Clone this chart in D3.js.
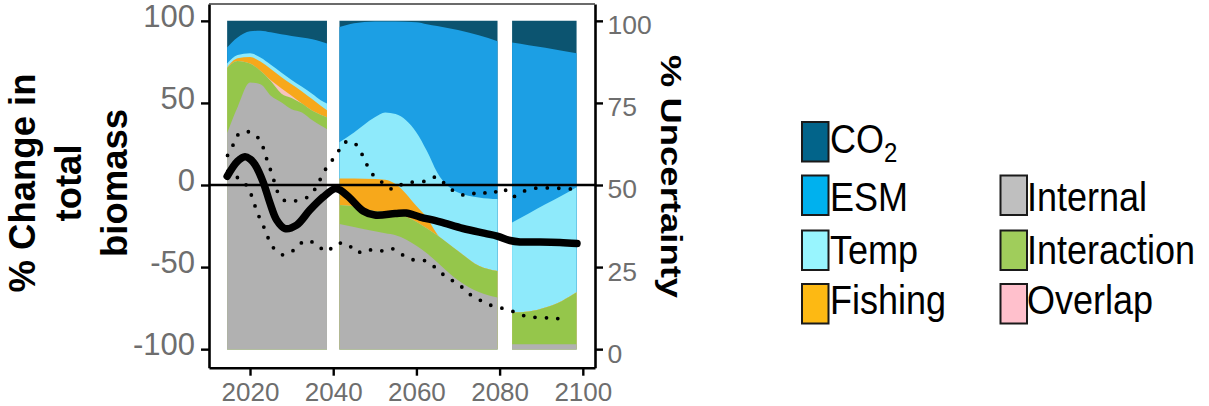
<!DOCTYPE html>
<html><head><meta charset="utf-8">
<script src="https://cdn.jsdelivr.net/npm/d3@7"></script>
<style>
body{margin:0;background:#fff;}
svg{display:block;font-family:"Liberation Sans",Arial,Helvetica,sans-serif;}
</style></head><body>
<svg id="c" width="1209" height="406"></svg>
<script>
// ---------- data ----------
const years  = [2014.5,2017,2020,2022.5,2025,2027.5,2030,2032.5,2035,2037,2038.5,
                2041.5,2045,2050,2052.5,2055,2060,2062.5,2065,2070,2075,2079.5,
                2083,2087,2091,2095,2098.5];
const period = [1,1,1,1,1,1,1,1,1,1,1, 2,2,2,2,2,2,2,2,2,2,2, 3,3,3,3,3];
const co2         = [8.1,5.1,3.2,3.0,3.5,4.1,4.6,5.1,5.6,6.3,6.9, 1.9,0.7,0.2,0.2,0.2,0.4,1.0,1.6,2.8,4.4,6.2, 6.6,7.4,8.2,9.1,9.9];
const esm         = [4.9,5.3,6.7,8.2,9.9,11.6,13.4,15.0,16.7,17.9,18.3, 35.1,33.3,29.2,27.7,28.2,33.6,38.6,44.6,49.5,49.4,48.1, 54.8,51.3,47.7,44.1,40.8];
const temp        = [1.2,1.0,1.1,1.2,1.3,1.4,1.3,1.4,1.6,1.7,2.0, 11.0,14.0,18.8,20.5,21.3,22.4,20.3,18.8,17.8,20.8,21.9, 27.4,29.8,31.4,32.1,32.0];
const fishing     = [0.2,0.8,2.0,2.8,3.4,3.4,3.5,3.7,3.5,2.7,2.2, 8.1,8.5,9.7,9.7,9.0,4.8,3.3,0.3,0,0,0, 0,0,0,0,0];
const overlap     = [0,0,0,0,0.2,1.6,0.7,0,0,0,0, 0,0,0,0,0,0,0,0,0,0,0, 0,0,0,0,0];
const interaction = [19.8,14.1,5.8,4.1,4.5,2.7,3.4,2.7,2.9,3.3,3.6, 5.8,6.3,6.2,6.6,6.6,7.3,7.6,8.2,8.9,8.0,8.1, 9.7,10.0,11.2,13.2,15.8];
const internal    = [65.8,73.7,81.2,80.7,77.2,75.2,73.1,72.1,69.7,68.1,67.0, 38.1,37.2,35.9,35.3,34.7,31.5,29.2,26.5,21.0,17.4,15.7, 1.5,1.5,1.5,1.5,1.5];

const meanYears  = [2014.5,2017,2018.8,2020,2021.2,2023.2,2024.8,2026.4,2028.4,2031.2,2034.4,2037.6,2040.4,2041.6,2044,2047.2,2050,2054.9,2057.5,2060.9,2065.7,2071.2,2076.5,2079.4,2082.5,2084.9,2089.7,2094.5,2098.6];
const meanValues = [5.3,14.5,17.2,15.8,12.4,1.5,-11.0,-21.3,-26.5,-24.4,-15.2,-7.3,-2.2,-3.0,-7.9,-15.8,-18.3,-17.4,-17.1,-19.5,-22.5,-26.5,-29.5,-31.1,-33.8,-34.7,-34.7,-35.0,-35.6];

const upperYears  = [2014.6,2016.15,2017.6,2020.4,2022.6,2023.6,2024.6,2025.6,2026.4,2028.4,2031.0,2034.0,2036.0,2037.2,2038.8,2040.8,2042.4,2044.7,2046.7,2048.0,2049.6,2052.0,2054.4,2057.0,2062.3,2064.9,2067.1,2069.7,2072.5,2075.0,2078.0,2080.7,2083.1,2085.6,2088.5,2091.6,2094.5,2097.0];
const upperValues = [18.0,25.4,31.9,31.9,26.4,18.9,11.6,4.1,-3.0,-9.6,-9.6,-7.1,-1.0,5.1,12.2,18.3,25.4,26.4,19.7,12.8,6.1,1.2,-2.6,1.0,2.4,4.9,0,-4.7,-6.4,-4.1,-5.5,-2.0,-7.1,-4.0,-2.0,-1.8,-2.0,-2.4];

const lowerYears  = [2014.7,2016.15,2017.8,2019.6,2020.8,2021.75,2023.05,2024.16,2025.6,2028.0,2030.8,2033.2,2035.9,2038.3,2040.8,2043.4,2045.65,2048.05,2050.8,2053.9,2056.7,2059.4,2062.3,2064.95,2067.4,2070.1,2072.3,2074.9,2077.7,2080.75,2083.7,2086.7,2089.9,2093.1,2096.1];
const lowerValues = [8.5,5.5,3.5,-2.0,-9.6,-16.9,-23.9,-31.1,-38.2,-42.6,-39.2,-33.9,-35.9,-40.6,-35.9,-35.9,-41.2,-39.2,-40.6,-38.6,-42.6,-45.7,-46.3,-51.2,-56.5,-60.3,-65.6,-69.6,-73.1,-75.2,-77.4,-80.2,-80.7,-81.2,-81.8];

const xTicks      = [2020,2040,2060,2080,2100];
const leftTicks   = [-100,-50,0,50,100];
const rightTicks  = [0,25,50,75,100];
const seriesKeys  = ["Internal","Interaction","Overlap","Fishing","Temp","ESM","CO2"];
const legendLabels = ["CO2","ESM","Temp","Fishing","Internal","Interaction","Overlap"];

// ---------- styles ----------
const areaColor = {CO2:"#0c5470",ESM:"#1c9fe4",Temp:"#8eeafb",Fishing:"#f7a81b",Overlap:"#f6c3bf",Interaction:"#95c64b",Internal:"#b1b1b1"};
const legColor  = {CO2:"#02648a",ESM:"#00b1ee",Temp:"#98f5fe",Fishing:"#fdb913",Overlap:"#ffc0cc",Interaction:"#a0cd5b",Internal:"#bfbfbf"};

const L = 209, R = 595, T = 4, B = 367.7;
const svg = d3.select("#c");

const x  = d3.scaleLinear().domain([2010.14, 2102.93]).range([L, R]);
const yL = d3.scaleLinear().domain([-111.3, 110.27]).range([B, T]);
const yU = d3.scaleLinear().domain([-5.65, 105.13]).range([B, T]);
const plain = d => String(d);

// ---------- stacked areas ----------
const rows = years.map((yr, i) => ({
  year: yr, period: period[i],
  CO2: co2[i], ESM: esm[i], Temp: temp[i], Fishing: fishing[i],
  Overlap: overlap[i], Interaction: interaction[i], Internal: internal[i]
}));
const stack = d3.stack().keys(seriesKeys);
const gA = svg.append("g");
[1,2,3].forEach(p => {
  const sub = rows.filter(r => r.period === p);
  const layers = stack(sub);
  layers.slice().reverse().forEach(layer => {
    const area = d3.area()
      .x(d => x(d.data.year))
      .y0(yU(0))
      .y1(d => yU(d[1]))
      .curve(d3.curveMonotoneX);
    gA.append("path").attr("d", area(layer)).attr("fill", areaColor[layer.key]);
  });
});

// zero line
svg.append("line").attr("x1", L).attr("x2", R).attr("y1", yL(0)).attr("y2", yL(0))
  .attr("stroke", "#000").attr("stroke-width", 2.5);

// dotted bounds
const lineGen = d3.line().x(d => x(d[0])).y(d => yL(d[1])).curve(d3.curveCatmullRom);
[[upperYears, upperValues], [lowerYears, lowerValues]].forEach(([ys, vs]) => {
  svg.append("path").attr("d", lineGen(ys.map((v, i) => [v, vs[i]])))
    .attr("fill", "none").attr("stroke", "#000").attr("stroke-width", 3.8)
    .attr("stroke-linecap", "round").attr("stroke-dasharray", "0 11.5");
});

// mean line
svg.append("path").attr("d", lineGen(meanYears.map((v, i) => [v, meanValues[i]])))
  .attr("fill", "none").attr("stroke", "#000").attr("stroke-width", 7.5)
  .attr("stroke-linecap", "round").attr("stroke-linejoin", "round");

// ---------- axes ----------
const tickGrey = "#6e6e6e";
const gL = svg.append("g").attr("transform", `translate(${L},0)`)
  .call(d3.axisLeft(yL).tickValues(leftTicks).tickSize(8).tickSizeOuter(0).tickFormat(plain));
gL.selectAll("text").attr("x", -14).attr("dy", 5.5).attr("font-size", 31).attr("fill", tickGrey)
  .attr("font-family", "Liberation Sans, Arial, sans-serif");

const gB = svg.append("g").attr("transform", `translate(0,${B})`)
  .call(d3.axisBottom(x).tickValues(xTicks).tickSize(8).tickSizeOuter(0).tickFormat(plain));
gB.selectAll("text").attr("y", 33.8).attr("dy", 0).attr("font-size", 26).attr("fill", tickGrey)
  .attr("font-family", "Liberation Sans, Arial, sans-serif");

const gR = svg.append("g").attr("transform", `translate(${R},0)`)
  .call(d3.axisRight(yU).tickValues(rightTicks).tickSize(8).tickSizeOuter(0).tickFormat(plain));
gR.selectAll("text").attr("x", 12.5).attr("dy", 13).attr("font-size", 26.5).attr("fill", tickGrey)
  .attr("font-family", "Liberation Sans, Arial, sans-serif");

svg.selectAll(".domain").attr("stroke", "#000").attr("stroke-width", 2.6);
svg.selectAll(".tick line").attr("stroke", "#000").attr("stroke-width", 2.4);

// top border
svg.append("line").attr("x1", L).attr("x2", R).attr("y1", T).attr("y2", T)
  .attr("stroke", "#3a3a3a").attr("stroke-width", 1.6);

// ---------- titles ----------
const leftTitle = ["% Change in", "total", "biomass"];
const leftBase  = [35, 81, 126.5];
leftTitle.forEach((t, i) => {
  svg.append("text").attr("transform", `translate(${leftBase[i]},183) rotate(-90)`)
    .attr("text-anchor", "middle").attr("font-weight", "bold").attr("font-size", 36.5)
    .attr("fill", "#000").text(t);
});
svg.append("text").attr("transform", "translate(661,176.5) rotate(90) scale(1,0.82)")
  .attr("text-anchor", "middle").attr("font-weight", "bold").attr("font-size", 36.5)
  .attr("fill", "#000").text("% Uncertainty");

// ---------- legend ----------
const legPos = {
  CO2:[0,0], ESM:[0,1], Temp:[0,2], Fishing:[0,3],
  Internal:[1,1], Interaction:[1,2], Overlap:[1,3]
};
const colBoxX = [802, 1000.5], colTextX = [830, 1027];
const rowTop = [122, 175.5, 230.5, 284], rowBase = [153, 210.5, 264, 314];
const gLeg = svg.append("g");
legendLabels.forEach(k => {
  const [c, r] = legPos[k];
  gLeg.append("rect").attr("x", colBoxX[c]).attr("y", rowTop[r]).attr("width", 26.5).attr("height", 39.5)
    .attr("fill", legColor[k]).attr("stroke", "#1a1a1a").attr("stroke-width", 2);
  const t = gLeg.append("text").attr("transform", `translate(${colTextX[c]},${rowBase[r]}) scale(1,1.13)`)
    .attr("font-size", 36).attr("fill", "#000");
  if (k === "CO2") {
    t.append("tspan").text("CO");
    t.append("tspan").attr("font-size", 24).attr("dy", 8).text("2");
  } else t.text(k);
});
</script>
</body></html>
